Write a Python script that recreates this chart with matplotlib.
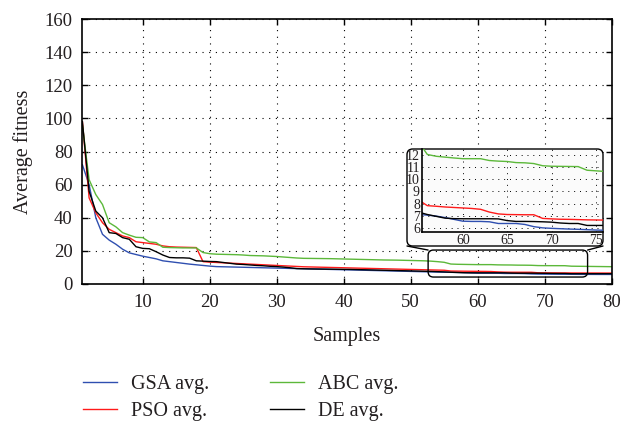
import numpy as np
import matplotlib.pyplot as plt
from matplotlib.patches import FancyBboxPatch, ConnectionPatch

plt.rcParams['font.family'] = ['Liberation Serif', 'DejaVu Serif']
plt.rcParams['text.color'] = '#231f20'
plt.rcParams['xtick.labelcolor'] = '#231f20'
plt.rcParams['ytick.labelcolor'] = '#231f20'
plt.rcParams['axes.labelcolor'] = '#231f20'

# Samples 1..80
samples = np.arange(1, 81)

gsa = [72, 60, 40, 30, 26.5, 24, 21, 18.8, 17.8, 16.8,
       16, 15.2, 14, 13.5, 13, 12.5, 12, 11.6, 11.2, 10.8,
       10.5, 10.4, 10.3, 10.2, 10.1, 10, 9.9, 9.8, 9.7, 9.6,
       9.5, 9.4, 9.3, 9.2, 9.1, 9.0, 8.9, 8.8, 8.7, 8.6,
       8.5, 8.4, 8.3, 8.2, 8.1, 8.0, 7.9, 7.8, 7.7, 7.6,
       7.5, 7.4, 7.3, 7.2, 7.1, 7.05, 6.97, 6.85, 6.7, 6.55,
       6.53, 6.53, 6.5, 6.36, 6.36, 6.36, 6.28, 6.1, 6.0, 5.96,
       5.93, 5.9, 5.88, 5.85, 5.82, 5.8, 5.8, 5.78, 5.77, 5.76]

pso = [98, 52, 43, 37, 33, 31, 29, 28, 25.5, 25,
       24.5, 24, 23, 22.5, 22.3, 22.2, 22.1, 22, 13.5, 13.2,
       13, 12.8, 12.6, 12.4, 12.2, 12, 11.8, 11.6, 11.4, 11.2,
       11, 10.8, 10.6, 10.4, 10.3, 10.2, 10.1, 10, 9.9, 9.8,
       9.7, 9.6, 9.5, 9.4, 9.3, 9.2, 9.1, 9.0, 8.9, 8.8,
       8.7, 8.6, 8.5, 8.4, 8.3, 7.83, 7.78, 7.72, 7.68, 7.64,
       7.6, 7.53, 7.3, 7.15, 7.1, 7.09, 7.08, 7.08, 6.78, 6.74,
       6.71, 6.7, 6.68, 6.66, 6.65, 6.64, 6.63, 6.62, 6.61, 6.6]

abc = [96, 63, 54, 48, 37, 34.5, 31, 29.5, 28.2, 28,
       25.4, 25, 22.2, 22, 21.9, 21.8, 21.8, 21.8, 19, 18.3,
       18, 17.9, 17.8, 17.7, 17.5, 17.2, 17.1, 17, 16.8, 16.6,
       16.3, 16.0, 15.7, 15.5, 15.45, 15.4, 15.35, 15.3, 15.2, 15.1,
       15.0, 14.9, 14.8, 14.7, 14.6, 14.5, 14.45, 14.4, 14.3, 14.2,
       14.1, 14.0, 13.8, 13.5, 13.1, 12.05, 11.9, 11.83, 11.76, 11.7,
       11.7, 11.7, 11.55, 11.5, 11.47, 11.38, 11.36, 11.3, 11.12, 11.08,
       11.07, 11.06, 11.05, 10.75, 10.7, 10.65, 10.6, 10.55, 10.5, 10.45]

de = [98, 56, 44, 40, 31, 30.5, 28, 27, 22.5, 21.5,
      21.3, 19.5, 17.5, 16, 15.8, 15.8, 15.6, 14, 13.8, 13.6,
      13.5, 13, 12.5, 12, 11.8, 11.5, 11.2, 11, 10.7, 10.5,
      10.2, 9.8, 9.3, 9.2, 9.1, 9.05, 9.0, 8.95, 8.9, 8.85,
      8.8, 8.7, 8.6, 8.5, 8.4, 8.3, 8.2, 8.1, 8.0, 7.9,
      7.8, 7.7, 7.6, 7.45, 7.3, 7.1, 6.95, 6.8, 6.76, 6.75,
      6.75, 6.75, 6.75, 6.74, 6.6, 6.53, 6.53, 6.52, 6.5, 6.47,
      6.4, 6.36, 6.36, 6.2, 6.2, 6.2, 6.2, 6.2, 6.2, 6.2]

labels = ['GSA avg.', 'PSO avg.', 'ABC avg.', 'DE avg.']
colors = ['#2f4fb0', '#ff1a1a', '#5cb83a', '#000000']
series = [gsa, pso, abc, de]

W, H = 635, 421
fig = plt.figure(figsize=(W / 100, H / 100), dpi=100)

# main axes (pixel box: left 82, right 612, top 19, bottom 284)
ax = fig.add_axes([82.4 / W, 1 - 284 / H, (611.7 - 82.4) / W, (284 - 19) / H])
ax.set_zorder(0)
for y, c, lab in zip(series, colors, labels):
    ax.plot(samples, y, color=c, lw=1.0, label=lab)

ax.set_xlim(1, 80)
ax.set_ylim(0, 160)
ax.set_xticks(np.arange(10, 81, 10))
ax.set_yticks(np.arange(0, 161, 20))
ax.tick_params(direction='in', top=True, right=True, labelsize=13.5, length=4, width=1)
ax.tick_params(axis='y', pad=7)
ax.tick_params(axis='x', pad=7)
ax.grid(True, color='black', linestyle=(0, (1, 5)), lw=0.8)
for s in ax.spines.values():
    s.set_linewidth(1.2)
ax.set_xlabel('Samples', fontsize=14.5, labelpad=12)
ax.set_ylabel('Average fitness', fontsize=14.5, labelpad=8)

# zoom region marker on main axes
zx0, zx1, zy0, zy1 = 52.6, 76.4, 4.2, 20.5
ax.add_patch(FancyBboxPatch((zx0, zy0), zx1 - zx0, zy1 - zy0,
                            boxstyle='round,pad=0,rounding_size=0.8',
                            mutation_aspect=4.0, fill=False,
                            ec='black', lw=1.0, zorder=5))

# inset frame (rounded box)
bx0, bx1 = 407 / W, 603 / W
by0, by1 = 1 - 246 / H, 1 - 149 / H
frame = FancyBboxPatch((bx0, by0), bx1 - bx0, by1 - by0,
                       boxstyle='round,pad=0,rounding_size=0.009',
                       mutation_aspect=W / H, transform=fig.transFigure,
                       fc='#fbfbfb', ec='black', lw=1.0, zorder=1)
fig.add_artist(frame)

for xa, xb in [(zx0, bx0), (zx1, bx1)]:
    con = ConnectionPatch(xyA=(xa, zy1), coordsA=ax.transData,
                          xyB=(xb, by0), coordsB=fig.transFigure,
                          color='black', lw=1.0, zorder=1.5)
    fig.add_artist(con)

# inset axes
axi = fig.add_axes([422 / W, 1 - 231.5 / H, (603 - 422) / W, (231.5 - 149) / H])
axi.set_zorder(2)
axi.patch.set_alpha(0)
for y, c in zip(series, colors):
    axi.plot(samples, y, color=c, lw=1.0)
axi.set_xlim(55.4, 75.8)
axi.set_ylim(5.7, 12.5)
axi.set_xticks([60, 65, 70, 75])
axi.set_yticks(np.arange(6, 13, 1))
axi.tick_params(direction='in', labelsize=10, length=0, pad=1.5)
axi.grid(True, color='black', linestyle=(0, (1, 5)), lw=0.7)
axi.spines['top'].set_visible(False)
axi.spines['right'].set_visible(False)
axi.spines['left'].set_linewidth(1.2)
axi.spines['bottom'].set_linewidth(1.2)

# legend below the plot
h, l = ax.get_legend_handles_labels()
fig.legend(h, l, ncol=2, frameon=False, fontsize=14.5,
           loc='upper left', bbox_to_anchor=(82.7 / W, 1 - 375 / H),
           borderpad=0, borderaxespad=0, handlelength=1.7,
           handletextpad=0.7, columnspacing=3.0, labelspacing=0.4)

fig.savefig('out.png', dpi=100)
